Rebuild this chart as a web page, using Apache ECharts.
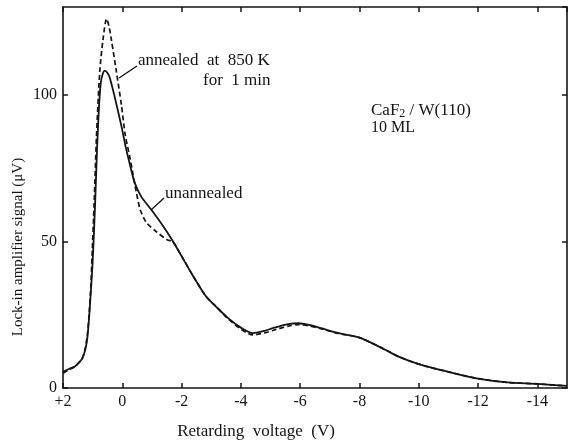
<!DOCTYPE html>
<html><head><meta charset="utf-8">
<script src="https://cdn.jsdelivr.net/npm/echarts@6/dist/echarts.min.js"></script>
<style>html,body{margin:0;padding:0;background:#fff}#c{width:572px;height:444px}</style>
</head><body><div id="c"></div>
<script>
// Tick labels (retarding voltage, V) and signal ticks (µV)
const xTickValues = [2, 0, -2, -4, -6, -8, -10, -12, -14];
const yTickValues = [0, 50, 100];
const xStart = 2, xEnd = -15;

// Unannealed (solid)
const unannealedV = [2.0, 1.8, 1.6, 1.45, 1.35, 1.25, 1.18, 1.12, 1.06, 1.0, 0.92, 0.85, 0.78, 0.72, 0.65, 0.59, 0.5, 0.42, 0.26, 0.1, 0.0, -0.12, -0.25, -0.42, -0.64, -0.98, -1.31, -1.65, -2.0, -2.37, -2.82, -3.16, -3.55, -4.0, -4.4, -4.8, -5.1, -5.6, -5.95, -6.3, -6.7, -7.3, -8.0, -8.4, -8.9, -9.3, -9.9, -10.4, -11.0, -12.0, -13.0, -14.0, -15.0];
const unannealedS = [5.5, 6.5, 7.3, 8.8, 10.0, 13.0, 17.0, 24.0, 33.0, 43.0, 62.0, 82.0, 97.0, 104.5, 107.5, 108.3, 107.5, 105.8, 99.5, 92.5, 88.0, 82.0, 76.5, 70.0, 65.3, 60.8, 56.2, 51.0, 45.0, 38.5, 31.3, 27.8, 24.0, 20.6, 18.7, 19.5, 20.5, 21.8, 22.1, 21.5, 20.4, 18.7, 17.2, 15.4, 12.9, 10.8, 8.5, 7.0, 5.5, 3.2, 1.9, 1.4, 0.7];

// Annealed at 850 K for 1 min (dashed)
const annealedV = [2.0, 1.8, 1.6, 1.45, 1.35, 1.25, 1.18, 1.12, 1.06, 1.02, 0.95, 0.87, 0.76, 0.65, 0.53, 0.45, 0.37, 0.2, 0.03, -0.1, -0.25, -0.36, -0.47, -0.6, -0.81, -1.14, -1.53, -1.7, -2.0, -2.37, -2.82, -3.16, -3.55, -4.0, -4.4, -4.8, -5.1, -5.6, -5.95, -6.3, -6.7, -7.3, -8.0, -8.4, -8.9, -9.3, -9.9, -10.4, -11.0, -12.0, -13.0, -14.0, -15.0];
const annealedS = [5.0, 6.3, 7.3, 8.8, 10.2, 13.5, 18.0, 25.0, 35.0, 45.0, 63.0, 86.0, 108.0, 119.0, 126.0, 123.5, 119.0, 108.0, 96.6, 86.3, 79.0, 73.0, 67.0, 61.0, 56.5, 53.4, 50.5, 50.0, 45.0, 38.5, 31.3, 27.8, 23.8, 20.1, 18.1, 18.8, 19.7, 21.1, 21.6, 21.2, 20.2, 18.6, 17.2, 15.4, 12.9, 10.8, 8.5, 7.0, 5.5, 3.2, 1.9, 1.4, 0.7];

const FONT = '"Liberation Serif", "DejaVu Serif", serif';
const INK = '#141414';
// axis position measured from +2 V towards negative voltages
const toU = v => xStart - v;
const pair = (vs, ss) => vs.map((v, i) => [toU(v), ss[i]]);

const xFmt = u => {
  const v = Math.round(xStart - u);
  if (!xTickValues.includes(v) || Math.abs((xStart - u) - v) > 1e-6) return '';
  return v > 0 ? '+' + v : String(v);
};
const yFmt = y => yTickValues.includes(y) ? String(y) : '';

const axisCommon = () => ({
  axisLine: {show: true, onZero: false, lineStyle: {color: INK, width: 1.6}},
  axisTick: {show: true, inside: true, length: 5, lineStyle: {color: INK, width: 1.5}},
  splitLine: {show: false}
});

const chart = echarts.init(document.getElementById('c'), null, {renderer: 'canvas'});
chart.setOption({
  animation: false,
  backgroundColor: '#fff',
  grid: {left: 63, right: 5, top: 7, bottom: 56, containLabel: false},
  xAxis: [
    Object.assign({type: 'value', min: 0, max: toU(xEnd), interval: 2, position: 'bottom',
      axisLabel: {formatter: xFmt, color: INK, fontFamily: FONT, fontSize: 16, margin: 6, showMaxLabel: false}}, axisCommon()),
    Object.assign({type: 'value', min: 0, max: toU(xEnd), interval: 2, position: 'top',
      axisLabel: {show: false}}, axisCommon())
  ],
  yAxis: [
    Object.assign({type: 'value', min: 0, max: 130, interval: 50, position: 'left',
      axisLabel: {formatter: yFmt, color: INK, fontFamily: FONT, fontSize: 16, margin: 6, showMaxLabel: false}}, axisCommon()),
    Object.assign({type: 'value', min: 0, max: 130, interval: 50, position: 'right',
      axisLabel: {show: false}}, axisCommon())
  ],
  series: [
    {name: 'unannealed', type: 'line', data: pair(unannealedV, unannealedS), showSymbol: false, smooth: 0.25,
      lineStyle: {color: INK, width: 1.8}, z: 3},
    {name: 'annealed at 850 K for 1 min', type: 'line', data: pair(annealedV, annealedS), showSymbol: false, smooth: 0.25,
      lineStyle: {color: INK, width: 1.7, type: [5, 3]}, z: 2}
  ],
  graphic: [
    {type: 'text', left: 138, top: 52, style: {text: 'annealed  at  850 K', font: '17px ' + FONT, fill: INK}},
    {type: 'text', left: 203, top: 72, style: {text: 'for  1 min', font: '17px ' + FONT, fill: INK}},
    {type: 'line', shape: {x1: 137, y1: 66, x2: 119, y2: 78}, style: {stroke: INK, lineWidth: 1.3}},
    {type: 'text', left: 165, top: 185, style: {text: 'unannealed', font: '17px ' + FONT, fill: INK}},
    {type: 'line', shape: {x1: 164, y1: 198, x2: 151, y2: 210}, style: {stroke: INK, lineWidth: 1.3}},
    {type: 'text', left: 371, top: 102, style: {
      text: '{a|CaF}{s|2}{a| / W(110)}', font: '17px ' + FONT, fill: INK,
      rich: {a: {fontFamily: FONT, fontSize: 17, fill: INK}, s: {fontFamily: FONT, fontSize: 12, fill: INK, padding: [7, 0, 0, 0]}}}},
    {type: 'text', left: 371, top: 120, style: {text: '10 ML', font: '16px ' + FONT, fill: INK}},
    {type: 'text', x: 256, y: 432, style: {text: 'Retarding  voltage  (V)', font: '17px ' + FONT, fill: INK, align: 'center', verticalAlign: 'middle'}},
    {type: 'text', x: 18, y: 247, rotation: Math.PI / 2, style: {text: 'Lock-in amplifier signal (\u03bcV)', font: '15px ' + FONT, fill: INK, align: 'center', verticalAlign: 'middle'}}
  ]
});
</script></body></html>
